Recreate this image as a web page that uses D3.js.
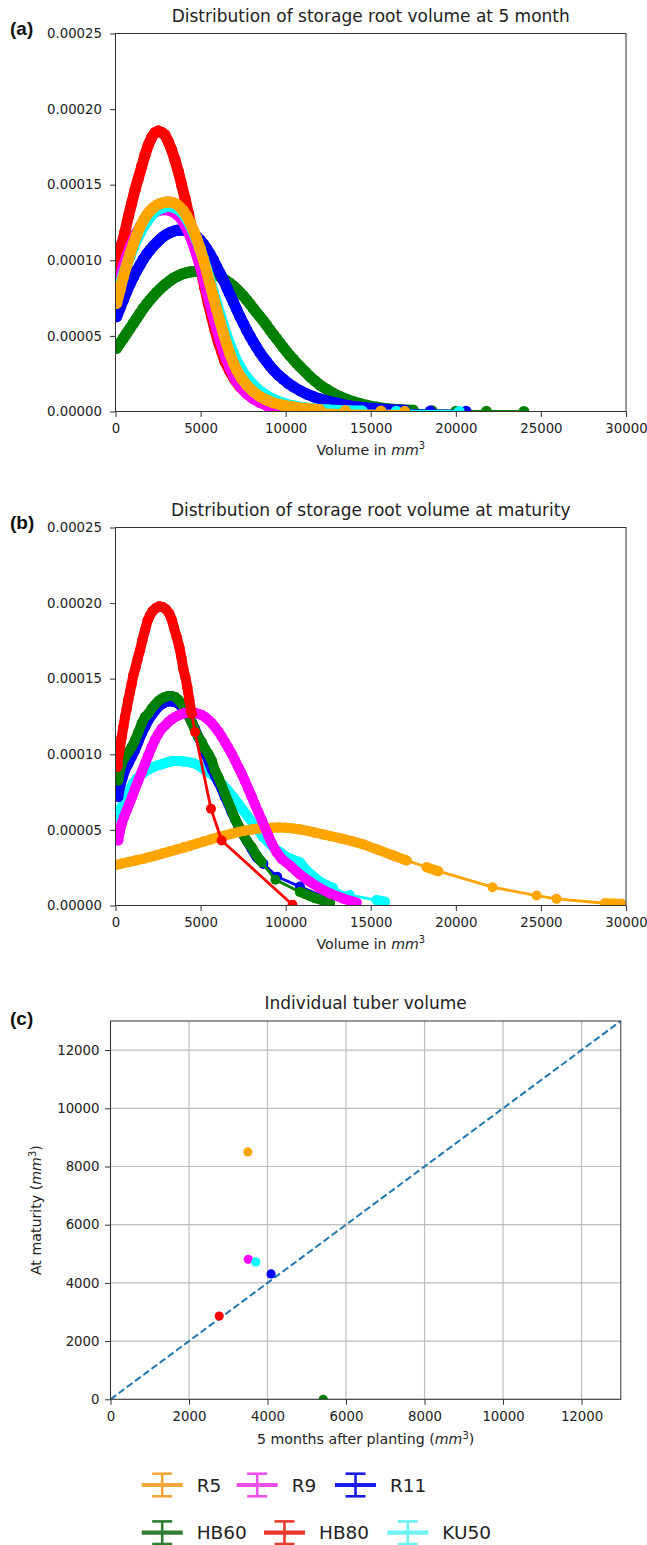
<!DOCTYPE html>
<html><head><meta charset="utf-8">
<script src="https://cdn.jsdelivr.net/npm/d3@7"></script>
<style>
body{margin:0;background:#fff}
svg{display:block}
</style>
</head><body>
<svg id="chart" width="647" height="1545"></svg>
<script>
// ---------------- DATA ----------------
const seriesNames = ["R5", "R9", "R11", "HB60", "HB80", "KU50"];
const seriesColors = ["#FFA500", "#FF00FF", "#0000FF", "#008000", "#FF0000", "#00FFFF"];
const legendColors = ["#F5A73C", "#EE50EE", "#1B1BE8", "#2E7D30", "#E83A2C", "#6DF3F3"];

const xTicksAB = [0, 5000, 10000, 15000, 20000, 25000, 30000];
const yTickValsAB = [0, 5, 10, 15, 20, 25];            // density in units of 1e-5
const yTickLabelsAB = ["0.00000", "0.00005", "0.00010", "0.00015", "0.00020", "0.00025"];
const ticksC = [0, 2000, 4000, 6000, 8000, 10000, 12000];

// Panel (a): [volume mm3, density x1e-5] at 5 months
const a_R5 = [[69,7.15],[264,8.04],[460,8.92],[656,9.69],[852,10.42],[1048,11.08],[1244,11.68],[1439,12.18],[1635,12.62],[1831,12.98],[2027,13.26],[2223,13.48],[2419,13.64],[2615,13.75],[2810,13.81],[3006,13.86],[3202,13.86],[3398,13.81],[3594,13.70],[3790,13.52],[3986,13.26],[4181,12.93],[4377,12.51],[4573,12.00],[4769,11.45],[4965,10.79],[5161,10.06],[5357,9.25],[5552,8.43],[5748,7.59],[5944,6.76],[6140,5.94],[6336,5.17],[6532,4.46],[6727,3.80],[6923,3.23],[7119,2.74],[7413,2.19],[7707,1.75],[8098,1.31],[8490,0.98],[8882,0.76],[9274,0.58],[9763,0.43],[10350,0.32],[11035,0.21],[12000,0.12],[13500,0.06],[15600,0.03],[17000,0.01]];
const a_R9 = [[69,8.2],[264,8.9],[460,9.6],[656,10.25],[852,10.85],[1048,11.35],[1244,11.8],[1439,12.2],[1635,12.5],[1831,12.8],[2027,13.0],[2223,13.15],[2419,13.25],[2615,13.32],[2810,13.35],[3006,13.35],[3202,13.3],[3398,13.2],[3594,13.05],[3790,12.85],[3986,12.55],[4181,12.15],[4377,11.65],[4573,11.05],[4769,10.4],[4965,9.65],[5161,8.85],[5357,8.0],[5552,7.15],[5748,6.3],[5944,5.5],[6140,4.75],[6336,4.05],[6532,3.45],[6727,2.9],[6923,2.4],[7119,2.0],[7413,1.55],[7707,1.2],[8098,0.85],[8490,0.6],[8882,0.42],[9400,0.28],[10000,0.17],[10600,0.1],[11000,0.07]];
const a_R11 = [[69,6.27],[264,6.83],[460,7.38],[656,7.93],[852,8.42],[1048,8.88],[1244,9.32],[1439,9.69],[1635,10.07],[1831,10.40],[2027,10.68],[2223,10.95],[2419,11.17],[2615,11.39],[2810,11.57],[3006,11.72],[3202,11.83],[3398,11.92],[3594,11.98],[3790,12.00],[3986,12.00],[4181,11.96],[4377,11.87],[4573,11.74],[4769,11.57],[4965,11.35],[5161,11.08],[5357,10.77],[5552,10.42],[5748,10.02],[5944,9.58],[6140,9.14],[6336,8.70],[6532,8.21],[6727,7.73],[6923,7.24],[7119,6.76],[7315,6.27],[7511,5.83],[7707,5.39],[7902,4.99],[8098,4.60],[8294,4.24],[8490,3.89],[8686,3.58],[8882,3.30],[9078,3.01],[9274,2.75],[9567,2.41],[9861,2.13],[10155,1.86],[10449,1.64],[10841,1.38],[11233,1.16],[11624,0.98],[12016,0.83],[12604,0.65],[13191,0.50],[13779,0.36],[14366,0.28],[15200,0.2],[16000,0.14],[17000,0.08],[18500,0.04],[20600,0.02]];
const a_HB60 = [[69,4.18],[264,4.51],[460,4.84],[656,5.17],[852,5.50],[1048,5.83],[1244,6.16],[1439,6.49],[1635,6.82],[1831,7.11],[2027,7.38],[2223,7.64],[2419,7.88],[2615,8.10],[2810,8.30],[3006,8.48],[3202,8.65],[3398,8.81],[3594,8.92],[3790,9.03],[3986,9.12],[4181,9.18],[4377,9.23],[4573,9.25],[4769,9.27],[4965,9.27],[5161,9.27],[5357,9.25],[5552,9.20],[5748,9.14],[5944,9.05],[6140,8.92],[6336,8.79],[6532,8.63],[6727,8.48],[6923,8.30],[7119,8.10],[7315,7.88],[7511,7.64],[7707,7.38],[7902,7.11],[8098,6.82],[8294,6.54],[8490,6.27],[8686,5.99],[8882,5.70],[9078,5.39],[9274,5.10],[9469,4.82],[9665,4.53],[9861,4.24],[10057,3.96],[10253,3.69],[10449,3.45],[10645,3.19],[10841,2.97],[11135,2.64],[11428,2.31],[11722,2.02],[12016,1.75],[12408,1.47],[12800,1.20],[13191,0.98],[13583,0.80],[13975,0.65],[14366,0.52],[14758,0.41],[15346,0.28],[15933,0.19],[16716,0.12],[17500,0.08],[18600,0.05],[20000,0.02],[21800,0.012],[24000,0.004]];
const a_HB80 = [[69,9.14],[225,10.24],[382,11.12],[558,11.89],[754,12.89],[950,13.77],[1146,14.65],[1342,15.42],[1537,16.19],[1733,16.96],[1929,17.63],[2125,18.13],[2321,18.44],[2517,18.55],[2713,18.46],[2908,18.29],[3104,17.85],[3300,17.30],[3496,16.63],[3692,15.86],[3888,14.98],[4083,14.10],[4279,13.11],[4475,12.11],[4671,11.12],[4867,10.13],[5063,9.14],[5258,8.15],[5454,7.15],[5650,6.27],[5846,5.39],[6042,4.62],[6238,3.96],[6433,3.30],[6727,2.64],[7021,2.08],[7315,1.64],[7707,1.20],[8098,0.87],[8490,0.65],[8882,0.43],[9469,0.28],[10057,0.14]];
const a_KU50 = [[69,7.6],[264,8.35],[460,9.05],[656,9.7],[852,10.3],[1048,10.85],[1244,11.35],[1439,11.8],[1635,12.2],[1831,12.55],[2027,12.85],[2223,13.1],[2419,13.3],[2615,13.42],[2810,13.5],[3006,13.55],[3202,13.55],[3398,13.52],[3594,13.43],[3790,13.28],[3986,13.05],[4181,12.75],[4377,12.35],[4573,11.88],[4769,11.35],[4965,10.75],[5161,10.1],[5357,9.4],[5552,8.65],[5748,7.9],[5944,7.15],[6140,6.4],[6336,5.7],[6532,5.0],[6727,4.4],[6923,3.85],[7119,3.35],[7413,2.75],[7707,2.25],[8098,1.75],[8490,1.35],[8882,1.05],[9274,0.8],[9763,0.58],[10350,0.4],[11035,0.25],[11800,0.15],[12500,0.1],[13500,0.05],[14500,0.03],[16500,0.02],[20200,0.005]];

// Panel (b): [volume mm3, density x1e-5] at maturity
const b_R5 = [[100,2.7],[400,2.78],[800,2.88],[1200,2.98],[1600,3.08],[2000,3.2],[2400,3.32],[2800,3.45],[3200,3.58],[3600,3.7],[4000,3.83],[4400,3.96],[4800,4.1],[5200,4.23],[5600,4.37],[6000,4.5],[6400,4.62],[6800,4.74],[7200,4.85],[7600,4.95],[8000,5.03],[8400,5.09],[8800,5.13],[9200,5.15],[9600,5.16],[10000,5.14],[10400,5.1],[10840,5.03],[11300,4.93],[11720,4.82],[12200,4.70],[12600,4.6],[13300,4.42],[13880,4.26],[14560,4.04],[15440,3.68],[16320,3.31],[17110,2.98],[18280,2.53],[18970,2.27],[22160,1.21],[24750,0.66],[25920,0.44],[28760,0.15],[29740,0.11]];
const b_R9 = [[166,4.30],[264,4.96],[362,5.40],[499,5.85],[656,6.29],[813,6.73],[969,7.17],[1146,7.72],[1342,8.27],[1537,8.82],[1733,9.38],[1929,9.93],[2125,10.48],[2321,10.96],[2517,11.36],[2713,11.69],[2908,11.91],[3104,12.13],[3300,12.31],[3496,12.46],[3692,12.57],[3888,12.66],[4083,12.73],[4279,12.75],[4475,12.75],[4671,12.73],[4867,12.68],[5063,12.60],[5258,12.46],[5454,12.29],[5650,12.07],[5846,11.80],[6042,11.52],[6238,11.18],[6433,10.81],[6629,10.43],[6825,10.04],[7021,9.60],[7217,9.16],[7413,8.71],[7609,8.23],[7804,7.72],[8000,7.21],[8196,6.68],[8392,6.18],[8588,5.67],[8784,5.14],[8980,4.63],[9176,4.13],[9469,3.53],[9763,3.09],[10300,2.6],[10840,2.05],[11427,1.57],[12000,1.15],[12602,0.8],[13400,0.45],[14168,0.19]];
const b_R11 = [[166,7.17],[264,7.83],[401,8.38],[558,8.93],[754,9.38],[950,9.82],[1146,10.26],[1342,10.81],[1537,11.36],[1733,11.80],[1929,12.24],[2125,12.57],[2321,12.86],[2517,13.13],[2713,13.30],[2908,13.43],[3104,13.50],[3300,13.50],[3496,13.46],[3692,13.35],[3888,13.13],[4083,12.86],[4279,12.57],[4475,12.13],[4671,11.69],[4867,11.14],[5063,10.70],[5258,10.15],[5454,9.60],[5650,9.04],[5846,8.60],[6042,8.16],[6238,7.72],[6433,7.17],[6629,6.73],[6825,6.18],[7021,5.74],[7217,5.29],[7413,4.85],[7707,4.30],[8000,3.75],[8294,3.20],[8686,2.76],[9500,1.9],[10840,1.25],[12200,0.6],[13970,0.19]];
const b_HB60 = [[166,8.27],[264,8.93],[401,9.49],[558,9.82],[754,10.15],[950,10.48],[1146,10.92],[1342,11.47],[1537,12.02],[1733,12.46],[1929,12.68],[2125,13.02],[2321,13.28],[2517,13.52],[2713,13.68],[2908,13.79],[3104,13.85],[3300,13.85],[3496,13.79],[3692,13.61],[3888,13.35],[4083,13.02],[4279,12.57],[4475,12.13],[4671,11.58],[4867,11.14],[5063,10.81],[5258,10.37],[5454,10.04],[5650,9.60],[5846,8.93],[6042,8.49],[6238,7.94],[6433,7.39],[6629,6.84],[6825,6.29],[7021,5.74],[7217,5.29],[7413,4.85],[7707,4.30],[8000,3.86],[8294,3.31],[8588,2.87],[9400,1.7],[10840,0.9],[11700,0.5],[12600,0.2]];
const b_HB80 = [[108,9.16],[166,9.82],[264,10.48],[362,11.14],[460,11.80],[558,12.46],[656,13.02],[754,13.61],[852,14.12],[950,14.67],[1048,15.22],[1185,15.77],[1302,16.32],[1440,16.88],[1577,17.54],[1733,18.20],[1890,18.86],[2027,19.19],[2184,19.48],[2380,19.68],[2576,19.79],[2771,19.74],[2967,19.59],[3163,19.30],[3320,18.86],[3437,18.38],[3594,17.76],[3751,17.10],[3868,16.43],[3985,15.66],[4103,15.11],[4220,14.45],[4338,13.57],[4475,12.68],[4671,11.47],[5611,6.40],[6238,4.30],[10400,0.05]];
const b_KU50 = [[166,5.85],[304,6.40],[460,6.84],[656,7.28],[852,7.72],[1048,8.10],[1244,8.38],[1439,8.60],[1635,8.78],[1831,8.93],[2027,9.04],[2223,9.16],[2419,9.24],[2615,9.31],[2810,9.38],[3006,9.44],[3202,9.51],[3398,9.55],[3692,9.55],[3986,9.53],[4279,9.49],[4573,9.42],[4867,9.27],[5161,9.04],[5454,8.82],[5748,8.60],[6042,8.27],[6336,7.94],[6629,7.57],[6923,7.17],[7217,6.73],[7511,6.29],[7804,5.85],[8098,5.40],[8392,4.96],[8686,4.52],[8980,4.19],[9274,3.86],[9665,3.53],[10057,3.20],[10840,2.85],[11231,2.3],[12014,1.57],[12797,1.14],[13777,0.69],[15343,0.36],[15833,0.25]];

// Panel (c): mean tuber volume (mm3)
const c_fiveMonths = [3500, 3510, 4090, 5420, 2770, 3700];
const c_maturity   = [8500, 4810, 4310, 0, 2860, 4720];

// ---------------- DRAWING ----------------
const FONT = "DejaVu Sans, sans-serif";
const TXT = "#222";
const SPINE = "#333";
const svg = d3.select("#chart");
svg.append("rect").attr("width", 647).attr("height", 1545).attr("fill", "#fff");
const colorOf = n => seriesColors[seriesNames.indexOf(n)];

function styleAxis(sel, fs) {
  sel.select(".domain").remove();
  sel.attr("font-family", FONT).attr("font-size", fs);
  sel.selectAll(".tick line").attr("stroke", SPINE).attr("stroke-width", 1);
  sel.selectAll(".tick text").attr("fill", TXT);
}

function addMathLabel(parent, x, y, pre, post, fs, rotate) {
  const t = parent.append("text").attr("font-family", FONT).attr("font-size", fs)
    .attr("fill", TXT).attr("text-anchor", "middle");
  if (rotate) t.attr("transform", `translate(${x},${y}) rotate(-90)`);
  else t.attr("x", x).attr("y", y);
  t.append("tspan").text(pre);
  t.append("tspan").attr("font-style", "italic").text("mm");
  t.append("tspan").attr("dy", -fs * 0.38).attr("font-size", fs * 0.7).text("3");
  if (post) t.append("tspan").attr("dy", fs * 0.38).text(post);
  return t;
}

const PX0 = 115.5, PX1 = 626, PH = 378;

function densityPanel(top, title, data, order, panelLabel, mr) {
  const x = d3.scaleLinear().domain([0, 30000]).range([PX0, PX1]);
  const y = d3.scaleLinear().domain([0, 25]).range([top + PH, top]);
  const g = svg.append("g");
  const clipId = "clip" + Math.round(top);
  g.append("clipPath").attr("id", clipId).append("rect")
    .attr("x", PX0).attr("y", top).attr("width", PX1 - PX0).attr("height", PH);
  const pg = g.append("g").attr("clip-path", `url(#${clipId})`);
  order.forEach(name => {
    const col = colorOf(name);
    const pts = data[name].map(p => [x(p[0]), y(p[1])]);
    const sg = pg.append("g");
    sg.append("path").attr("d", d3.line()(pts)).attr("fill", "none")
      .attr("stroke", col).attr("stroke-width", 2.8).attr("stroke-linejoin", "round");
    // markers that overlap merge into a band
    for (let i = 1; i < pts.length; i++) {
      const dx = pts[i][0] - pts[i - 1][0], dy = pts[i][1] - pts[i - 1][1];
      if (Math.hypot(dx, dy) < 18) {
        sg.append("line").attr("x1", pts[i - 1][0]).attr("y1", pts[i - 1][1])
          .attr("x2", pts[i][0]).attr("y2", pts[i][1])
          .attr("stroke", col).attr("stroke-width", mr * 2).attr("stroke-linecap", "round");
      }
    }
    sg.selectAll("circle").data(pts).join("circle")
      .attr("cx", d => d[0]).attr("cy", d => d[1]).attr("r", mr).attr("fill", col);
  });
  g.append("rect").attr("x", PX0).attr("y", top).attr("width", PX1 - PX0).attr("height", PH)
    .attr("fill", "none").attr("stroke", SPINE).attr("stroke-width", 1);
  g.append("g").attr("transform", `translate(0,${top + PH})`)
    .call(d3.axisBottom(x).tickValues(xTicksAB).tickFormat(d3.format("d")).tickSize(5.5).tickPadding(7))
    .call(s => styleAxis(s, 13.3));
  g.append("g").attr("transform", `translate(${PX0},0)`)
    .call(d3.axisLeft(y).tickValues(yTickValsAB).tickFormat((d, i) => yTickLabelsAB[i]).tickSize(5.5).tickPadding(8))
    .call(s => styleAxis(s, 13.3));
  g.append("text").attr("x", (PX0 + PX1) / 2).attr("y", top - 12).attr("text-anchor", "middle")
    .attr("font-family", FONT).attr("font-size", 17).attr("fill", TXT).text(title);
  addMathLabel(g, (PX0 + PX1) / 2, top + PH + 43, "Volume in ", null, 14.2, false);
  g.append("text").attr("x", 10).attr("y", top + 1).attr("font-family", "Liberation Sans, Arial, sans-serif")
    .attr("font-weight", "bold").attr("font-size", 19).attr("fill", "#111").text(panelLabel);
}

densityPanel(33.5, "Distribution of storage root volume at 5 month",
  {R5: a_R5, R9: a_R9, R11: a_R11, HB60: a_HB60, HB80: a_HB80, KU50: a_KU50},
  ["HB80", "HB60", "R11", "R9", "KU50", "R5"], "(a)", 5.5);

densityPanel(527.5, "Distribution of storage root volume at maturity",
  {R5: b_R5, R9: b_R9, R11: b_R11, HB60: b_HB60, HB80: b_HB80, KU50: b_KU50},
  ["KU50", "R11", "HB60", "R5", "R9", "HB80"], "(b)", 5);

// Panel (c)
(function () {
  const cx0 = 110.5, cx1 = 620.8, cy0 = 1399.3, cy1 = 1021;
  const x = d3.scaleLinear().domain([0, 13000]).range([cx0, cx1]);
  const y = d3.scaleLinear().domain([0, 13000]).range([cy0, cy1]);
  const g = svg.append("g");
  g.append("clipPath").attr("id", "clipC").append("rect")
    .attr("x", cx0).attr("y", cy1).attr("width", cx1 - cx0).attr("height", cy0 - cy1);
  // grid
  g.selectAll(".gx").data(ticksC).join("line")
    .attr("x1", d => x(d)).attr("x2", d => x(d)).attr("y1", cy1).attr("y2", cy0)
    .attr("stroke", "#bdbdbd").attr("stroke-width", 1.2);
  g.selectAll(".gy").data(ticksC).join("line")
    .attr("y1", d => y(d)).attr("y2", d => y(d)).attr("x1", cx0).attr("x2", cx1)
    .attr("stroke", "#bdbdbd").attr("stroke-width", 1.2);
  const pg = g.append("g").attr("clip-path", "url(#clipC)");
  pg.append("line").attr("x1", x(0)).attr("y1", y(0)).attr("x2", x(13000)).attr("y2", y(13000))
    .attr("stroke", "#1f77b4").attr("stroke-width", 2).attr("stroke-dasharray", "7,3.2");
  pg.selectAll("circle").data(seriesNames).join("circle")
    .attr("cx", (d, i) => x(c_fiveMonths[i])).attr("cy", (d, i) => y(c_maturity[i]))
    .attr("r", 4.6).attr("fill", (d, i) => seriesColors[i]);
  g.append("rect").attr("x", cx0).attr("y", cy1).attr("width", cx1 - cx0).attr("height", cy0 - cy1)
    .attr("fill", "none").attr("stroke", SPINE).attr("stroke-width", 1);
  g.append("g").attr("transform", `translate(0,${cy0})`)
    .call(d3.axisBottom(x).tickValues(ticksC).tickFormat(d3.format("d")).tickSize(5.5).tickPadding(7))
    .call(s => styleAxis(s, 13.3));
  g.append("g").attr("transform", `translate(${cx0},0)`)
    .call(d3.axisLeft(y).tickValues(ticksC).tickFormat(d3.format("d")).tickSize(5.5).tickPadding(5.5))
    .call(s => styleAxis(s, 13.3));
  g.append("text").attr("x", (cx0 + cx1) / 2).attr("y", cy1 - 12).attr("text-anchor", "middle")
    .attr("font-family", FONT).attr("font-size", 17).attr("fill", TXT).text("Individual tuber volume");
  addMathLabel(g, (cx0 + cx1) / 2, cy0 + 45, "5 months after planting (", ")", 14.2, false);
  addMathLabel(g, 41, (cy0 + cy1) / 2, "At maturity (", ")", 14.2, true);
  g.append("text").attr("x", 10).attr("y", 1025).attr("font-family", "Liberation Sans, Arial, sans-serif")
    .attr("font-weight", "bold").attr("font-size", 19).attr("fill", "#111").text("(c)");
})();

// Legend
(function () {
  const rowY = [1485, 1532.7];
  const handleX = [[141.7, 236.7, 335], [141.7, 264, 387.3]];
  const lg = svg.append("g");
  seriesNames.forEach((name, i) => {
    const r = Math.floor(i / 3), c = i % 3;
    const x0 = handleX[r][c], yc = rowY[r], col = legendColors[i];
    const xc = x0 + 20.5;
    lg.append("line").attr("x1", x0).attr("x2", x0 + 41).attr("y1", yc).attr("y2", yc)
      .attr("stroke", col).attr("stroke-width", 4.2);
    lg.append("line").attr("x1", xc).attr("x2", xc).attr("y1", yc - 11.3).attr("y2", yc + 11.3)
      .attr("stroke", col).attr("stroke-width", 2.6);
    [-11.3, 11.3].forEach(o => lg.append("line").attr("x1", xc - 10).attr("x2", xc + 10)
      .attr("y1", yc + o).attr("y2", yc + o).attr("stroke", col).attr("stroke-width", 2.6));
    lg.append("text").attr("x", x0 + 55).attr("y", yc + 6.6).attr("font-family", FONT)
      .attr("font-size", 18.5).attr("fill", TXT).text(name);
  });
})();
</script>
</body></html>
